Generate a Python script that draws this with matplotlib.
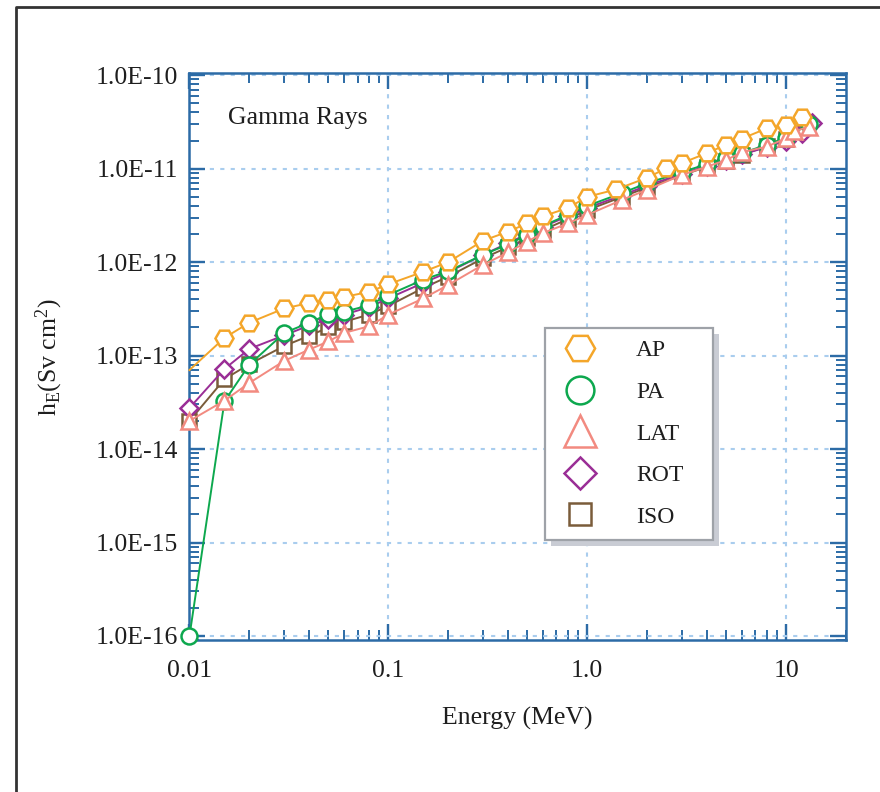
import matplotlib
matplotlib.use("Agg")
import matplotlib.pyplot as plt
from matplotlib.lines import Line2D
from matplotlib.patches import Rectangle
from matplotlib.ticker import LogLocator, FixedLocator, FixedFormatter, NullFormatter

plt.rcParams['font.family'] = ['Liberation Serif', 'DejaVu Serif']
plt.rcParams['mathtext.fontset'] = 'custom'
plt.rcParams['mathtext.rm'] = 'Liberation Serif'
plt.rcParams['mathtext.it'] = 'Liberation Serif:italic'

# ---------------- data (E in MeV, hE in Sv cm^2) ----------------
e_ap = [0.01, 0.015, 0.02, 0.03, 0.04, 0.05, 0.06, 0.08, 0.1, 0.15, 0.2, 0.3, 0.4, 0.5,
        0.6, 0.8, 1.0, 1.4, 2.0, 2.5, 3.0, 4.0, 5.0, 6.0, 8.0, 10.0, 12.0]
h_ap = [7.0e-14, 1.55e-13, 2.25e-13, 3.2e-13, 3.65e-13, 3.95e-13, 4.25e-13, 4.8e-13, 5.8e-13,
        7.9e-13, 1.0e-12, 1.7e-12, 2.12e-12, 2.6e-12, 3.1e-12, 3.8e-12, 5.0e-12, 6.0e-12,
        8.0e-12, 1.01e-11, 1.15e-11, 1.47e-11, 1.8e-11, 2.1e-11, 2.7e-11, 2.95e-11, 3.6e-11]

e_pa = [0.01, 0.015, 0.02, 0.03, 0.04, 0.05, 0.06, 0.08, 0.1, 0.15, 0.2, 0.3, 0.4, 0.5,
        0.6, 0.8, 1.0, 1.5, 2.0, 3.0, 4.0, 5.0, 6.0, 8.0, 10.0, 13.0]
h_pa = [1.0e-16, 3.25e-14, 8.0e-14, 1.75e-13, 2.25e-13, 2.78e-13, 2.95e-13, 3.45e-13, 4.45e-13,
        6.5e-13, 8.0e-13, 1.2e-12, 1.55e-12, 1.95e-12, 2.45e-12, 3.2e-12, 4.0e-12, 5.5e-12,
        7.0e-12, 9.2e-12, 1.12e-11, 1.3e-11, 1.47e-11, 1.8e-11, 2.15e-11, 3.0e-11]

e_lat = [0.01, 0.015, 0.02, 0.03, 0.04, 0.05, 0.06, 0.08, 0.1, 0.15, 0.2, 0.3, 0.4, 0.5,
         0.6, 0.8, 1.0, 1.5, 2.0, 3.0, 4.0, 5.0, 6.0, 8.0, 10.0, 11.0, 13.0]
h_lat = [2.0e-14, 3.3e-14, 5.1e-14, 8.8e-14, 1.16e-13, 1.42e-13, 1.75e-13, 2.06e-13, 2.74e-13,
         4.1e-13, 5.7e-13, 9.4e-13, 1.27e-12, 1.66e-12, 2.05e-12, 2.6e-12, 3.2e-12, 4.65e-12,
         5.95e-12, 8.6e-12, 1.05e-11, 1.24e-11, 1.5e-11, 1.72e-11, 2.12e-11, 2.5e-11, 2.82e-11]

e_rot = [0.01, 0.015, 0.02, 0.03, 0.04, 0.05, 0.06, 0.08, 0.1, 0.15, 0.2, 0.3, 0.4, 0.5,
         0.6, 0.8, 1.0, 1.5, 2.0, 3.0, 4.0, 5.0, 6.0, 8.0, 10.0, 12.0, 13.5]
h_rot = [2.75e-14, 7.2e-14, 1.18e-13, 1.65e-13, 2.1e-13, 2.45e-13, 2.75e-13, 3.3e-13, 4.1e-13,
         6.0e-13, 7.8e-13, 1.2e-12, 1.6e-12, 2.0e-12, 2.4e-12, 3.1e-12, 3.8e-12, 5.2e-12,
         6.6e-12, 8.8e-12, 1.07e-11, 1.25e-11, 1.42e-11, 1.7e-11, 2.0e-11, 2.4e-11, 3.1e-11]

e_iso = [0.01, 0.015, 0.02, 0.03, 0.04, 0.05, 0.06, 0.08, 0.1, 0.15, 0.2, 0.3, 0.4, 0.5,
         0.6, 0.8, 1.0, 1.5, 2.0, 3.0, 4.0, 5.0, 6.0, 8.0, 10.0, 12.5]
h_iso = [2.0e-14, 5.6e-14, 8.1e-14, 1.27e-13, 1.63e-13, 2.0e-13, 2.3e-13, 2.75e-13, 3.4e-13,
         5.3e-13, 7.0e-13, 1.1e-12, 1.45e-12, 1.8e-12, 2.2e-12, 2.9e-12, 3.6e-12, 5.0e-12,
         6.3e-12, 8.5e-12, 1.05e-11, 1.22e-11, 1.4e-11, 1.75e-11, 2.1e-11, 2.8e-11]

series_labels = ["AP", "PA", "LAT", "ROT", "ISO"]
x_ticks = [0.01, 0.1, 1.0, 10.0]
x_ticklabels = ["0.01", "0.1", "1.0", "10"]
y_ticks = [1e-16, 1e-15, 1e-14, 1e-13, 1e-12, 1e-11, 1e-10]
y_ticklabels = ["1.0E-16", "1.0E-15", "1.0E-14", "1.0E-13", "1.0E-12", "1.0E-11", "1.0E-10"]

# ---------------- styling ----------------
C_AP = "#F4A62A"
C_PA = "#0DA84E"
C_LAT = "#F28A80"
C_ROT = "#9A2E96"
C_ISO = "#7A5C3A"
AXC = "#2C6BA6"
GRIDC = "#A9CDEE"
TXT = "#1E1E1E"
FS = 18.5

fig = plt.figure(figsize=(8.8, 7.92), dpi=100)
ax = fig.add_axes([0.2153, 0.1913, 0.7461, 0.7161])

common = dict(mfc="white", mew=1.8, lw=1.4, clip_on=False)
ax.plot(e_iso, h_iso, color=C_ISO, marker="s", ms=9.5, zorder=3, **common)
ax.plot(e_rot, h_rot, color=C_ROT, marker="D", ms=9.5, zorder=3.1, **common)
ax.plot(e_pa, h_pa, color=C_PA, marker="o", ms=11.5, zorder=3.2, **common)
ax.plot(e_lat, h_lat, color=C_LAT, marker="^", ms=11.5, zorder=3.3, **common)
ax.plot(e_ap, h_ap, color=C_AP, marker="H", ms=13, zorder=3.4,
        markevery=list(range(1, len(e_ap))), **common)

ax.set_xscale("log")
ax.set_yscale("log")
ax.set_xlim(0.01, 20)
ax.set_ylim(8.95e-17, 1.047e-10)

ax.xaxis.set_major_locator(FixedLocator(x_ticks))
ax.xaxis.set_major_formatter(FixedFormatter(x_ticklabels))
ax.xaxis.set_minor_locator(LogLocator(base=10, subs=range(2, 10), numticks=50))
ax.xaxis.set_minor_formatter(NullFormatter())
ax.yaxis.set_major_locator(FixedLocator(y_ticks))
ax.yaxis.set_major_formatter(FixedFormatter(y_ticklabels))
ax.yaxis.set_minor_locator(LogLocator(base=10, subs=range(2, 10), numticks=50))
ax.yaxis.set_minor_formatter(NullFormatter())

ax.tick_params(which="both", direction="in", top=True, right=True, color=AXC)
ax.tick_params(which="major", length=11.5, width=1.7, labelsize=FS, labelcolor=TXT)
ax.tick_params(which="minor", length=7.5, width=1.4)
ax.tick_params(axis="x", which="major", pad=14)
ax.tick_params(axis="y", which="major", pad=8)
for sp in ax.spines.values():
    sp.set_color(AXC)
    sp.set_linewidth(1.8)

ax.grid(True, which="major", color=GRIDC, linestyle=(0, (2, 3)), linewidth=1.5)
ax.set_axisbelow(True)

ax.set_xlabel("Energy (MeV)", fontsize=FS, color=TXT, labelpad=18)
ax.set_ylabel(r"h$_{\mathrm{E}}$(Sv cm$^{2}$)", fontsize=FS, color=TXT, labelpad=22)

ax.text(0.058, 0.921, "Gamma Rays", transform=ax.transAxes, fontsize=FS,
        color=TXT, va="center", ha="left")

handles = [
    Line2D([], [], ls="none", marker="H", ms=21, mfc="white", mec=C_AP, mew=1.8),
    Line2D([], [], ls="none", marker="o", ms=20, mfc="white", mec=C_PA, mew=1.8),
    Line2D([], [], ls="none", marker="^", ms=23, mfc="white", mec=C_LAT, mew=1.8),
    Line2D([], [], ls="none", marker="D", ms=16.5, mfc="white", mec=C_ROT, mew=1.8),
    Line2D([], [], ls="none", marker="s", ms=16.5, mfc="white", mec=C_ISO, mew=1.8),
]
leg = ax.legend(handles, series_labels, loc="upper left",
                bbox_to_anchor=(0.5415, 0.181, 0.2555, 0.370), mode="expand",
                frameon=True, fancybox=False, fontsize=FS - 1.5, labelspacing=0.85,
                handlelength=1.95, handletextpad=1.4, borderpad=0.5, borderaxespad=0)
frame = leg.get_frame()
frame.set_edgecolor("#9EA2A8")
frame.set_facecolor("white")
frame.set_alpha(1.0)
frame.set_linewidth(1.6)
leg.set_zorder(6)
for t in leg.get_texts():
    t.set_color(TXT)

fig.canvas.draw()
bb = leg.get_window_extent()
inv = ax.transAxes.inverted()
(x0, y0), (x1, y1) = inv.transform([(bb.x0 + 6, bb.y0 - 6), (bb.x1 + 6, bb.y1 - 6)])
ax.add_patch(Rectangle((x0, y0), x1 - x0, y1 - y0, transform=ax.transAxes,
                       facecolor="#C9CCD4", edgecolor="none", zorder=5.9, clip_on=False))

# outer frame (top and left)
fig.add_artist(Line2D([0.018, 0.018, 1.0], [0.0, 0.9915, 0.9915], transform=fig.transFigure,
                      color="#333333", lw=2.0))

fig.savefig("out.png", dpi=100, facecolor="white")
